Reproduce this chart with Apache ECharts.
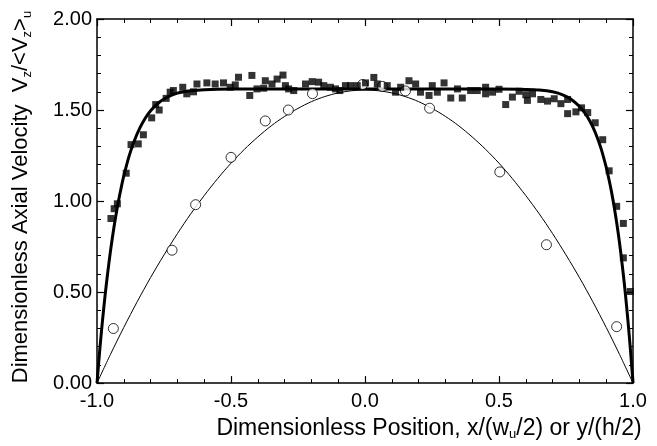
<!DOCTYPE html>
<html><head><meta charset="utf-8">
<script src="https://cdn.jsdelivr.net/npm/echarts@6/dist/echarts.min.js"></script>
<style>html,body{margin:0;padding:0;background:#fff}#c{width:657px;height:446px}</style>
</head><body><div id="c"></div>
<script>
// Filled squares (measured data)
const squareX = [-0.948,-0.936,-0.924,-0.891,-0.873,-0.846,-0.827,-0.796,-0.781,-0.768,-0.742,-0.727,-0.715,-0.68,-0.665,-0.64,-0.627,-0.59,-0.559,-0.528,-0.503,-0.484,-0.472,-0.43,-0.422,-0.403,-0.378,-0.372,-0.347,-0.328,-0.306,-0.297,-0.285,-0.266,-0.222,-0.197,-0.173,-0.154,-0.129,-0.11,-0.094,-0.073,-0.054,-0.029,0.002,0.033,0.046,0.083,0.114,0.133,0.164,0.189,0.207,0.239,0.251,0.27,0.295,0.32,0.345,0.363,0.394,0.419,0.45,0.45,0.476,0.5,0.525,0.55,0.575,0.6,0.606,0.625,0.656,0.681,0.706,0.731,0.756,0.756,0.787,0.808,0.831,0.859,0.887,0.911,0.939,0.964,0.964,0.99];
const squareY = [0.904,0.958,0.985,1.153,1.31,1.314,1.364,1.457,1.53,1.50,1.564,1.598,1.607,1.625,1.589,1.60,1.643,1.649,1.643,1.649,1.625,1.638,1.68,1.58,1.69,1.616,1.62,1.661,1.643,1.67,1.692,1.634,1.616,1.607,1.643,1.656,1.653,1.634,1.625,1.616,1.607,1.634,1.634,1.634,1.649,1.679,1.643,1.634,1.598,1.625,1.661,1.643,1.598,1.58,1.634,1.598,1.649,1.566,1.616,1.566,1.607,1.607,1.625,1.589,1.598,1.614,1.53,1.571,1.603,1.584,1.553,1.589,1.558,1.549,1.562,1.535,1.558,1.48,1.49,1.512,1.486,1.43,1.337,1.166,0.971,0.877,0.688,0.503];
// Open circles
const circleX = [-0.939,-0.72,-0.632,-0.50,-0.372,-0.286,-0.196,-0.009,0.065,0.151,0.241,0.503,0.677,0.939];
const circleY = [0.30,0.73,0.98,1.24,1.44,1.50,1.59,1.64,1.63,1.605,1.51,1.16,0.76,0.31];
// Thick curve
const thickX = [-1.00,-0.99,-0.98,-0.97,-0.96,-0.95,-0.94,-0.93,-0.92,-0.91,-0.90,-0.88,-0.86,-0.84,-0.82,-0.80,-0.77,-0.74,-0.70,-0.65,-0.60,-0.50,-0.30,0.00,0.30,0.50,0.60,0.65,0.70,0.74,0.77,0.80,0.82,0.84,0.86,0.88,0.90,0.91,0.92,0.93,0.94,0.95,0.96,0.97,0.98,0.99,1.00];
const thickY = [0,0.177,0.336,0.479,0.607,0.722,0.825,0.917,0.999,1.072,1.138,1.248,1.334,1.402,1.455,1.496,1.540,1.569,1.593,1.606,1.612,1.615,1.615,1.615,1.615,1.615,1.613,1.610,1.600,1.582,1.558,1.520,1.484,1.437,1.374,1.292,1.186,1.121,1.049,0.966,0.873,0.767,0.647,0.513,0.361,0.191,0];
// Thin curve
const thinX = [-1.00,-0.95,-0.90,-0.85,-0.80,-0.75,-0.70,-0.65,-0.60,-0.55,-0.50,-0.45,-0.40,-0.35,-0.30,-0.25,-0.20,-0.15,-0.10,-0.05,0.00,0.05,0.10,0.15,0.20,0.25,0.30,0.35,0.40,0.45,0.50,0.55,0.60,0.65,0.70,0.75,0.80,0.85,0.90,0.95,1.00];
const thinY = [0,0.157,0.306,0.447,0.580,0.704,0.821,0.930,1.030,1.123,1.208,1.284,1.352,1.413,1.465,1.509,1.546,1.574,1.594,1.606,1.610,1.606,1.594,1.574,1.546,1.509,1.465,1.413,1.352,1.284,1.208,1.123,1.030,0.930,0.821,0.704,0.580,0.447,0.306,0.157,0];
// Tick labels
const xTickValues = [-1, -0.5, 0, 0.5, 1];
const xTickLabels = ['-1.0', '-0.5', '0.0', '0.5', '1.0'];
const yTickValues = [0, 0.5, 1, 1.5, 2];
const yTickLabels = ['0.00', '0.50', '1.00', '1.50', '2.00'];

const FONT = "'Liberation Sans', Arial, sans-serif";
const FS = 20;
const pairs = (xs, ys) => xs.map((x, i) => [x, ys[i]]);
const lookup = (vals, labels) => v => {
  for (let i = 0; i < vals.length; i++) if (Math.abs(vals[i] - v) < 1e-6) return labels[i];
  return '';
};
const subRich = {s: {fontSize: 13, fontFamily: FONT, color: '#000', lineHeight: 13, padding: [12, 0, 0, 0]}};
const commonX = {
  type: 'value', min: -1, max: 1, interval: 0.5,
  axisLine: {show: true, onZero: false, lineStyle: {color: '#000', width: 1.5}},
  axisTick: {show: true, inside: true, length: 7, lineStyle: {color: '#000', width: 1.2}},
  minorTick: {show: true, splitNumber: 5, length: 4, lineStyle: {color: '#000', width: 1}},
  splitLine: {show: false}, minorSplitLine: {show: false}
};
const commonY = {
  type: 'value', min: 0, max: 2, interval: 0.5,
  axisLine: {show: true, onZero: false, lineStyle: {color: '#000', width: 1.5}},
  axisTick: {show: true, inside: true, length: 7, lineStyle: {color: '#000', width: 1.2}},
  minorTick: {show: true, splitNumber: 5, length: 4, lineStyle: {color: '#000', width: 1}},
  splitLine: {show: false}, minorSplitLine: {show: false}
};
const chart = echarts.init(document.getElementById('c'), null, {renderer: 'canvas'});
chart.setOption({
  animation: false,
  backgroundColor: '#fff',
  grid: {left: 97, right: 24, top: 19, bottom: 57},
  xAxis: [
    Object.assign({}, commonX, {
      position: 'bottom',
      axisLabel: {color: '#000', fontSize: FS, fontFamily: FONT, margin: 8, showMinLabel: true, showMaxLabel: true,
        formatter: lookup(xTickValues, xTickLabels)},
      name: 'Dimensionless Position, x/(w{s|u}/2) or y/(h/2)',
      nameLocation: 'middle', nameGap: 30,
      nameTextStyle: {color: '#000', fontSize: 23, fontFamily: FONT, padding: [0, 0, 0, 128], lineHeight: 24, rich: subRich}
    }),
    Object.assign({}, commonX, {position: 'top', axisLabel: {show: false}})
  ],
  yAxis: [
    Object.assign({}, commonY, {
      position: 'left',
      axisLabel: {color: '#000', fontSize: FS, fontFamily: FONT, margin: 5, showMinLabel: true, showMaxLabel: true,
        formatter: lookup(yTickValues, yTickLabels)},
      name: 'Dimensionless Axial Velocity  V{s|z}/<V{s|z}>{s|u}',
      nameLocation: 'middle', nameGap: 64,
      nameTextStyle: {color: '#000', fontSize: 22, fontFamily: FONT, lineHeight: 24, padding: [0, 0, 0, 8], rich: subRich}
    }),
    Object.assign({}, commonY, {position: 'right', axisLabel: {show: false}})
  ],
  series: [
    {type: 'line', data: pairs(thinX, thinY), smooth: 0.3, showSymbol: false, symbol: 'none',
      lineStyle: {color: '#000', width: 1}, z: 2},
    {type: 'line', data: pairs(thickX, thickY), smooth: 0.3, showSymbol: false, symbol: 'none',
      lineStyle: {color: '#000', width: 3}, z: 3},
    {type: 'scatter', data: pairs(circleX, circleY), symbol: 'circle', symbolSize: 10,
      itemStyle: {color: '#fff', borderColor: '#000', borderWidth: 1}, z: 4},
    {type: 'scatter', data: pairs(squareX, squareY), symbol: 'rect', symbolSize: 7,
      itemStyle: {color: '#000'}, z: 5}
  ]
});
</script>
</body></html>
